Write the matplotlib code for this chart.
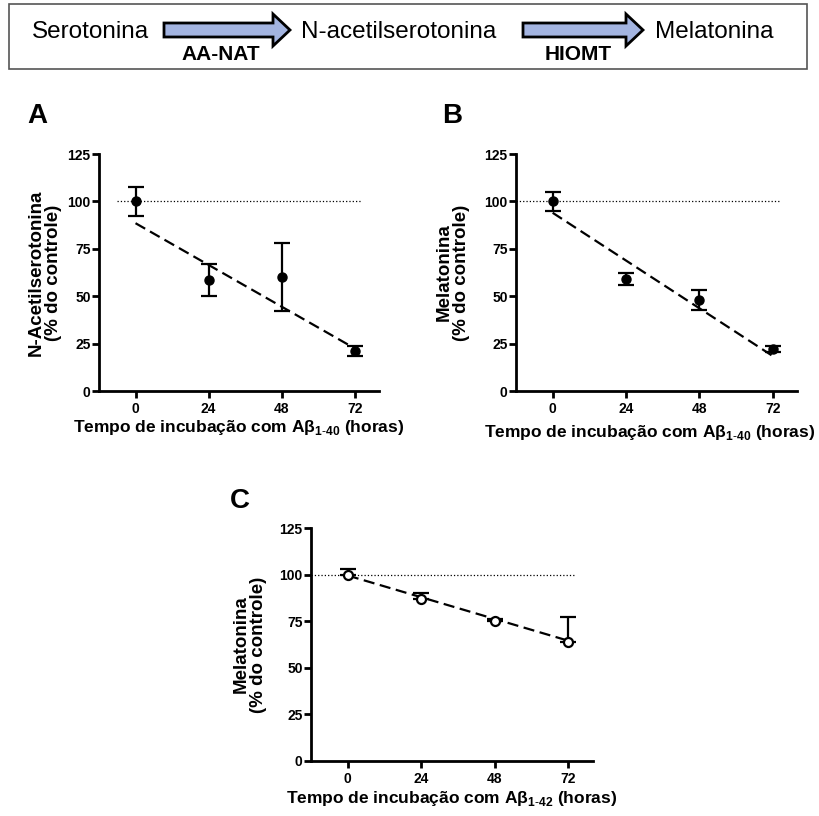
import numpy as np
import matplotlib.pyplot as plt
from matplotlib.patches import Rectangle, Polygon

plt.rcParams['font.family'] = ['Liberation Sans', 'DejaVu Sans']
plt.rcParams['mathtext.fontset'] = 'custom'
plt.rcParams['mathtext.rm'] = 'Liberation Sans'
plt.rcParams['mathtext.bf'] = 'Liberation Sans:bold'

# datos
horas = [0, 24, 48, 72]
horas_ajuste = [0, 72]

# A: N-acetilserotonina, Abeta 1-40
a_media = [100, 58.5, 60, 21]
a_erro = [7.5, 8.3, 18, 2.5]
a_ajuste = [88.5, 22.5]

# B: melatonina, Abeta 1-40
b_media = [100, 59, 48, 22]
b_erro = [5, 3, 5.5, 1.5]
b_ajuste = [94, 18.5]

# C: melatonina, Abeta 1-42 (so barra superior)
c_media = [100, 87, 75, 64]
c_erro_sup = [3, 3, 1, 13]
c_ajuste = [99.5, 64.5]

y_ticks = [0, 25, 50, 75, 100, 125]

W, H = 820, 816
fig = plt.figure(figsize=(8.2, 8.16), dpi=100)


def px_axes(left, top, right, bottom):
    return fig.add_axes([left / W, 1 - bottom / H, (right - left) / W, (bottom - top) / H])


def estilo(ax, ylabel, xlabel, ylab_x, xlab_pos, dot_start):
    ax.plot([dot_start, 74], [100, 100], ls=':', color='black', lw=0.9)
    ax.set_xlim(-12, 80)
    ax.set_ylim(0, 125)
    ax.set_xticks(horas)
    ax.set_yticks(y_ticks)
    for s in ['top', 'right']:
        ax.spines[s].set_visible(False)
    for s in ['left', 'bottom']:
        ax.spines[s].set_linewidth(2)
    ax.tick_params(direction='out', length=5, width=2, labelsize=10)
    ax.tick_params(axis='y', pad=1)
    ax.tick_params(axis='x', pad=3)
    for lab in ax.get_xticklabels() + ax.get_yticklabels():
        lab.set_fontweight('bold')
    ax.set_ylabel(ylabel, fontsize=13.5, fontweight='bold', linespacing=1.0)
    ax.yaxis.set_label_coords(ylab_x, 0.5)
    ax.set_xlabel(xlabel, fontsize=12.5, fontweight='bold')
    ax.xaxis.set_label_coords(*xlab_pos)


xl_40 = r'Tempo de incubação com Aβ$_{\mathbf{1\text{-}40}}$ (horas)'
xl_42 = r'Tempo de incubação com Aβ$_{\mathbf{1\text{-}42}}$ (horas)'

# painel A
axA = px_axes(99, 154, 379, 391)
axA.plot(horas_ajuste, a_ajuste, color='black', lw=1.6, ls=(0, (5, 2.5)))
axA.errorbar(horas, a_media, yerr=a_erro, fmt='o', color='black', ms=6.5,
             elinewidth=1.6, capsize=6, capthick=1.6, clip_on=False)
estilo(axA, 'N-Acetilserotonina\n(% do controle)', xl_40, -0.132, (0.5, -0.115), -6)

# painel B
axB = px_axes(516, 154, 797, 391)
axB.plot(horas_ajuste, b_ajuste, color='black', lw=1.6, ls=(0, (5, 2.5)))
axB.errorbar(horas, b_media, yerr=b_erro, fmt='o', color='black', ms=6.5,
             elinewidth=1.6, capsize=6, capthick=1.6, clip_on=False)
estilo(axB, 'Melatonina\n(% do controle)', xl_40, -0.164, (0.475, -0.135), -12)

# painel C
axC = px_axes(311, 528, 593, 761)
axC.plot(horas_ajuste, c_ajuste, color='black', lw=1.6, ls=(0, (5, 2.5)))
axC.errorbar(horas, c_media, yerr=[np.zeros(len(c_erro_sup)), c_erro_sup], fmt='o',
             color='black', mfc='white', mec='black', mew=1.6, ms=6.5,
             elinewidth=1.6, capsize=6, capthick=1.6, clip_on=False)
estilo(axC, 'Melatonina\n(% do controle)', xl_42, -0.156, (0.5, -0.12), -12)

# letras dos paineis
for letra, x, y in [('A', 27, 123), ('B', 442, 123), ('C', 230, 508)]:
    fig.text(x / W, 1 - y / H, letra, fontsize=20, fontweight='bold', va='baseline')

# esquema da via no topo
fig.patches.append(Rectangle((9 / W, 1 - 69 / H), 798 / W, 65 / H, transform=fig.transFigure,
                             fill=False, edgecolor='#555555', lw=1.2))


def seta(x0, x1, yc):
    pts = [(x0, yc - 7), (x1 - 17, yc - 7), (x1 - 17, yc - 16), (x1, yc),
           (x1 - 17, yc + 16), (x1 - 17, yc + 7), (x0, yc + 7)]
    pts = [(x / W, 1 - y / H) for x, y in pts]
    fig.patches.append(Polygon(pts, closed=True, transform=fig.transFigure,
                               facecolor='#a3b4e0', edgecolor='black', lw=2))


seta(164, 290, 30)
seta(523, 643, 30)

fig.text(32 / W, 1 - 32 / H, 'Serotonina', fontsize=17.5, va='center')
fig.text(301 / W, 1 - 32 / H, 'N-acetilserotonina', fontsize=17.5, va='center')
fig.text(655 / W, 1 - 32 / H, 'Melatonina', fontsize=17.5, va='center')
fig.text(221 / W, 1 - 55 / H, 'AA-NAT', fontsize=15, fontweight='bold', ha='center', va='center')
fig.text(578 / W, 1 - 55 / H, 'HIOMT', fontsize=15, fontweight='bold', ha='center', va='center')

fig.savefig('out.png', dpi=100)
